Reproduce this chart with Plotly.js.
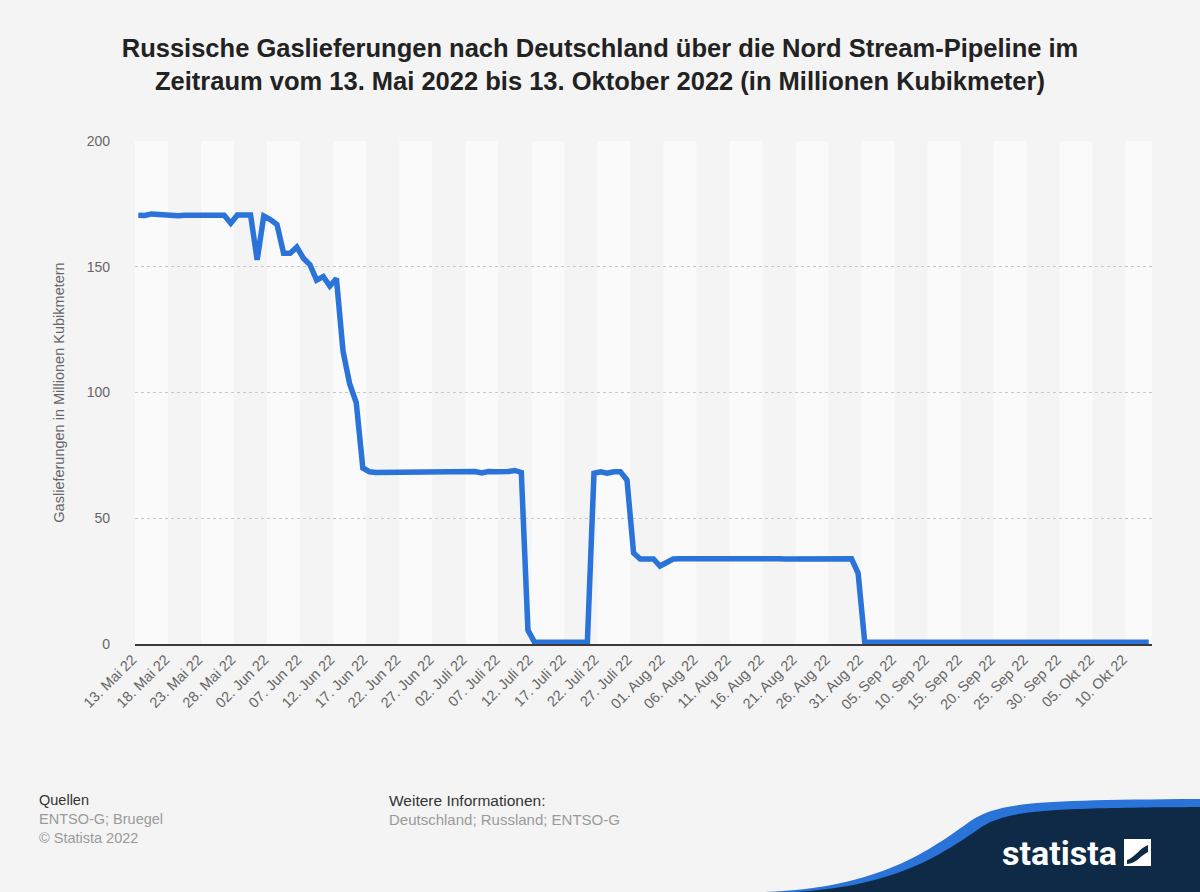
<!DOCTYPE html>
<html>
<head>
<meta charset="utf-8">
<script src="https://cdn.plot.ly/plotly-3.0.1.min.js"></script>
<style>
  html, body { margin: 0; padding: 0; background: #f4f4f4; }
  #chart { width: 1200px; height: 892px; }
</style>
</head>
<body>
<div id="chart"></div>
<script>
// Tick labels (every 5th day, starting 13. Mai 2022)
const tickLabels = [
  "13. Mai 22","18. Mai 22","23. Mai 22","28. Mai 22","02. Jun 22","07. Jun 22",
  "12. Jun 22","17. Jun 22","22. Jun 22","27. Jun 22","02. Juli 22","07. Juli 22",
  "12. Juli 22","17. Juli 22","22. Juli 22","27. Juli 22","01. Aug 22","06. Aug 22",
  "11. Aug 22","16. Aug 22","21. Aug 22","26. Aug 22","31. Aug 22","05. Sep 22",
  "10. Sep 22","15. Sep 22","20. Sep 22","25. Sep 22","30. Sep 22","05. Okt 22",
  "10. Okt 22"
];
const tickStep = 5;

// Daily deliveries, 13 May 2022 .. 13 Oct 2022 (million m³)
const deliveries = [
  170.5, 170.4, 171.0, 170.8, 170.6,
  170.2, 170.3, 170.5, 170.5, 170.5,
  170.5, 170.5, 170.5, 170.5, 167.3,
  170.6, 170.6, 170.6, 152.7, 170.2,
  168.8, 166.8, 155.4, 155.4, 157.8,
  153.4, 150.8, 144.7, 146.1, 142.3,
  145.3, 116.5, 103.5, 96.0, 70.0,
  68.5, 68.2, 68.2, 68.3, 68.4,
  68.4, 68.4, 68.4, 68.4, 68.4,
  68.5, 68.4, 68.5, 68.4, 68.5,
  68.5, 68.6, 68.0, 68.6, 68.5,
  68.4, 68.6, 69.0, 68.2, 5.5,
  0.7, 0.7, 0.7, 0.7, 0.7,
  0.7, 0.7, 0.7, 0.7,
  67.9, 68.5, 67.9, 68.5, 68.5, 65.2,
  36.2, 33.8, 33.8, 33.8, 31.0,
  32.7, 33.8, 33.9, 33.9, 33.9,
  33.9, 33.9, 33.9, 33.9, 34.0,
  34.0, 34.2, 34.3, 34.3, 34.4,
  34.4, 34.2, 33.9, 33.8, 33.8,
  33.8, 33.8, 33.8, 33.8, 33.8,
  33.8, 33.8, 33.8, 33.9,
  28.1,
  0.7, 0.7, 0.7, 0.7, 0.7, 0.7, 0.7, 0.7, 0.7, 0.7, 0.7,
  0.7, 0.7, 0.7, 0.7, 0.7, 0.7, 0.7, 0.7, 0.7, 0.7, 0.7,
  0.7, 0.7, 0.7, 0.7, 0.7, 0.7, 0.7, 0.7, 0.7, 0.7, 0.7,
  0.7, 0.7, 0.7, 0.7, 0.7, 0.7, 0.7, 0.7, 0.7, 0.7, 0.7
];
const yTicks = [0, 50, 100, 150, 200];

const titleText = "Russische Gaslieferungen nach Deutschland über die Nord Stream-Pipeline im<br>Zeitraum vom 13. Mai 2022 bis 13. Oktober 2022 (in Millionen Kubikmeter)";
const yTitle = "Gaslieferungen in Millionen Kubikmetern";

// layout geometry
const W = 1200, H = 892;
const M = { l: 135, r: 48, t: 141, b: 248 };
const PW = W - M.l - M.r, PH = H - M.t - M.b;
const px = x => (x - M.l) / PW;
const py = y => (H - M.b - y) / PH;

const n = deliveries.length;
const xs = deliveries.map((_, i) => i);
const tickVals = tickLabels.map((_, i) => i * tickStep);

const shapes = [];
// alternating bands (lighter every other 5-day block)
for (let k = 0; k * tickStep - 0.5 < n - 0.5; k += 2) {
  shapes.push({
    type: 'rect', xref: 'x', yref: 'paper', layer: 'below',
    x0: k * tickStep - 0.5, x1: Math.min((k + 1) * tickStep - 0.5, n - 0.5),
    y0: 0, y1: 1, fillcolor: '#fafafa', line: { width: 0 }
  });
}
// statista logo swoosh (bottom right)
const pathFrom = pts => pts.map((p, i) => (i === 0 ? 'M ' : (p.c ? 'C ' : 'L ')) +
  (p.c ? p.c.map(q => px(q[0]) + ',' + py(q[1])).join(' ') : px(p[0]) + ',' + py(p[1]))).join(' ') + ' Z';
shapes.push({
  type: 'path', xref: 'paper', yref: 'paper', layer: 'above',
  path: pathFrom([[765, 892], { c: [[880, 888], [930, 850], [972, 820]] }, { c: [[1000, 802], [1040, 800], [1200, 799]] }, [1200, 892]]),
  fillcolor: '#2a73d9', line: { width: 0 }
});
shapes.push({
  type: 'path', xref: 'paper', yref: 'paper', layer: 'above',
  path: pathFrom([[795, 892], { c: [[900, 886], [945, 852], [983, 826]] }, { c: [[1010, 810], [1050, 808], [1200, 807]] }, [1200, 892]]),
  fillcolor: '#0e2a47', line: { width: 0 }
});
shapes.push({
  type: 'rect', xref: 'paper', yref: 'paper', layer: 'above',
  x0: px(1124), x1: px(1151), y0: py(866), y1: py(839),
  fillcolor: '#ffffff', line: { width: 0 }
});
shapes.push({
  type: 'path', xref: 'paper', yref: 'paper', layer: 'above',
  path: pathFrom([[1127, 860], { c: [[1134, 858], [1140, 848], [1148, 845]] }, [1148, 852], { c: [[1141, 855], [1136, 864], [1127, 864]] }]),
  fillcolor: '#0e2a47', line: { width: 0 }
});

const grayText = '#9a9a9a';
const annotations = [
  { text: 'Quellen', x: px(37), y: py(800), xanchor: 'left', yanchor: 'middle', font: { size: 14.5, color: '#333' } },
  { text: 'ENTSO-G; Bruegel', x: px(37), y: py(819), xanchor: 'left', yanchor: 'middle', font: { size: 14.5, color: grayText } },
  { text: '© Statista 2022', x: px(37), y: py(838), xanchor: 'left', yanchor: 'middle', font: { size: 14.5, color: grayText } },
  { text: 'Weitere Informationen:', x: px(387), y: py(800), xanchor: 'left', yanchor: 'middle', font: { size: 15.5, color: '#333' } },
  { text: 'Deutschland; Russland; ENTSO-G', x: px(387), y: py(819), xanchor: 'left', yanchor: 'middle', font: { size: 15, color: grayText } },
  { text: '<b>statista</b>', x: px(1119), y: py(853), xanchor: 'right', yanchor: 'middle', font: { size: 34, color: '#ffffff', family: 'Roboto, Liberation Sans, sans-serif' } }
].map(a => Object.assign({ xref: 'paper', yref: 'paper', showarrow: false }, a));

const trace = {
  type: 'scatter', mode: 'lines', x: xs, y: deliveries,
  line: { color: '#2a73d9', width: 5.5 }, hoverinfo: 'skip'
};

const layout = {
  width: W, height: H,
  margin: M,
  paper_bgcolor: '#f4f4f4', plot_bgcolor: '#f4f4f4',
  font: { family: 'Liberation Sans, Arial, sans-serif', color: '#666' },
  showlegend: false,
  title: {
    text: '<b>' + titleText + '</b>',
    x: 0.5, xref: 'container', xanchor: 'center',
    y: 1 - 57 / H, yref: 'container', yanchor: 'middle',
    font: { size: 25.5, color: '#222', family: 'Liberation Sans, Arial, sans-serif' }
  },
  xaxis: {
    range: [-0.5, n - 0.5], tickmode: 'array', tickvals: tickVals, ticktext: tickLabels,
    tickangle: -45, tickfont: { size: 14.5, color: '#666' }, ticklabelshift: -6,
    showgrid: false, zeroline: false, showline: true, linecolor: '#3a3a3a', linewidth: 1.5,
    ticks: '', fixedrange: true
  },
  yaxis: {
    range: [0, 200], tickmode: 'array', tickvals: yTicks,
    tickfont: { size: 14, color: '#666' },
    showgrid: true, gridcolor: '#c8c8c8', griddash: 'dot', gridwidth: 1,
    zeroline: false, showline: false, ticks: '', ticklabelstandoff: 24,
    title: { text: yTitle, font: { size: 14.5, color: '#666' }, standoff: 18 },
    fixedrange: true
  },
  shapes: shapes,
  annotations: annotations
};

Plotly.newPlot('chart', [trace], layout, { displayModeBar: false, staticPlot: true });
</script>
</body>
</html>
